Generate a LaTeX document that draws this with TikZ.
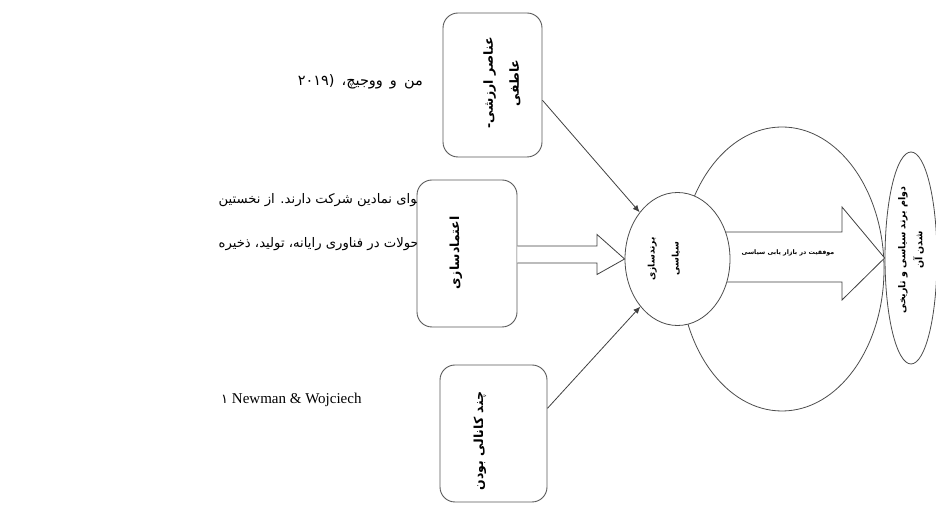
\documentclass[tikz,border=0pt]{standalone}
\usepackage{fontspec}
\setmainfont{Liberation Serif}
\newfontfamily\fa[Script=Arabic]{DejaVu Sans}
\TeXXeTstate=1
\usetikzlibrary{arrows.meta,calc,shapes.geometric}
\begin{document}
\begin{tikzpicture}[x=1pt,y=1pt,
  edge/.style={draw=black!75, line width=0.8pt},
  rbox/.style={draw=black!65, line width=0.9pt, rounded corners=15pt, fill=white, inner sep=0pt},
  oval/.style={ellipse, draw=black!70, line width=0.8pt, inner sep=0pt},
  lbl/.style={rotate=90, align=center, font=\fa\bfseries\fontsize{12.5}{26}\selectfont, inner sep=0pt},
  body/.style={font=\fa\fontsize{13.2}{16}\selectfont, inner sep=0pt},
  tip/.style={-{Latex[length=7pt,width=6pt]}}
]
\useasboundingbox (0,0) rectangle (936,505);
% background page text
\node[body, font=\fa\fontsize{14.5}{16}\selectfont, anchor=east] (t1) at (423,423) {\spaceskip=7pt\beginR من و ووجیچ، \beginL(۲۰۱۹\endL\endR};
\node[body, anchor=east] (t2) at (421,305) {\beginR توای نمادین شرکت دارند. از نخستین\endR};
\node[body, anchor=east] (t3) at (419,261) {\beginR حولات در فناوری رایانه، تولید، ذخیره\endR};
\node[font=\fontsize{15}{17}\selectfont, inner sep=0pt, anchor=west] (fn) at (221,105) {{\fa\fontsize{13}{15}\selectfont ۱} Newman \& Wojciech};
% big circle and right ellipse
\node[oval, minimum width=204pt, minimum height=284pt] (big) at (782,236) {};
\node[oval, minimum width=52pt, minimum height=212pt] (dur) at (911,247) {};
\node[lbl, font=\fa\bfseries\fontsize{9.5}{17}\selectfont] (durt) at (911,255) {\beginR دوام برند سیاسی و تاریخی\endR\\\beginR شدن آن\endR};
% boxes
\node[rbox, minimum width=99pt, minimum height=144pt] (topb) at (492.5,420) {};
\node[lbl] (topt) at (502,422) {\beginR عناصر ارزشی-\endR\\\beginR عاطفی\endR};
\node[rbox, minimum width=100pt, minimum height=147pt] (midb) at (467,251.5) {};
\node[lbl] (midt) at (456,252) {\beginR اعتمادسازی\endR};
\node[rbox, minimum width=107pt, minimum height=137pt] (botb) at (493.5,71.5) {};
\node[lbl] (bott) at (480,64) {\beginR چند کانالی بودن\endR};
% block arrow
\coordinate (ba) at (730,247);
\filldraw[edge, fill=white] ($(ba)+(-6,26)$) -- ($(ba)+(112,26)$) -- ($(ba)+(112,51)$) -- (dur.west) -- ($(ba)+(112,-42)$) -- ($(ba)+(112,-24)$) -- ($(ba)+(-6,-24)$);
\node[font=\fa\bfseries\fontsize{6.3}{8}\selectfont, inner sep=0pt] (bat) at (788,252) {\beginR موفقیت در بازار یابی سیاسی\endR};
% small ellipse
\node[oval, fill=white, minimum width=105pt, minimum height=133pt] (brand) at (677.5,246) {};
\node[lbl, font=\fa\bfseries\fontsize{9}{24}\selectfont] (brandt) at (664,246) {\beginR برندسازی\endR\\\beginR سیاسی\endR};
% hollow double arrow
\filldraw[edge, fill=white] (midb.east |- 0,259) -- (597,259) -- (597,270.5) -- (brand.west) -- (597,230.5) -- (597,242) -- (midb.east |- 0,242);
% thin arrows
\draw[edge, tip] (topb.-17) -- (brand.129);
\draw[edge, tip] (botb.25) -- (brand.232);
\end{tikzpicture}
\end{document}
